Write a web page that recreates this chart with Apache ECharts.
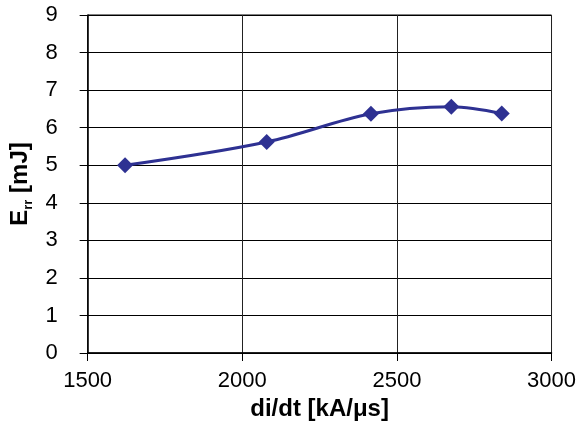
<!DOCTYPE html>
<html>
<head>
<meta charset="utf-8">
<script src="https://cdn.jsdelivr.net/npm/echarts@6/dist/echarts.min.js"></script>
<style>html,body{margin:0;padding:0;background:#fff}#c{width:579px;height:434px}</style>
</head>
<body>
<div id="c"></div>
<script>
const xValues = [1621, 2079, 2416, 2676, 2839];
const yValues = [5.0, 5.62, 6.37, 6.56, 6.38];
const xName = 'di/dt [kA/μs]';
const yName = 'E{sub|rr} [mJ]';

const chart = echarts.init(document.getElementById('c'));
chart.setOption({
  animation: false,
  backgroundColor: '#fff',
  grid: { left: 85, right: 24, top: 15, bottom: 81, show: true, borderColor: '#000', borderWidth: 1 },
  xAxis: {
    type: 'value', min: 1500, max: 3000, interval: 500,
    name: xName, nameLocation: 'middle', nameGap: 38,
    nameTextStyle: { fontFamily: 'Liberation Sans, Arial', fontSize: 24, fontWeight: 'bold', color: '#000' },
    axisLine: { show: true, lineStyle: { color: '#000', width: 1.5 } },
    axisTick: { show: true, length: 8, lineStyle: { color: '#000' } },
    axisLabel: { margin: 17, fontFamily: 'Liberation Sans, Arial', fontSize: 22, color: '#000', formatter: v => String(v) },
    splitLine: { show: true, lineStyle: { color: '#222', width: 1 } }
  },
  yAxis: {
    type: 'value', min: 0, max: 9, interval: 1,
    name: yName, nameLocation: 'middle', nameGap: 53, nameRotate: 90,
    nameTextStyle: { fontFamily: 'Liberation Sans, Arial', fontSize: 24, fontWeight: 'bold', color: '#000',
      rich: { sub: { fontFamily: 'Liberation Sans, Arial', fontSize: 13, fontWeight: 'bold', color: '#000', verticalAlign: 'bottom', padding: [16, 0, 0, 0] } } },
    axisLine: { show: true, lineStyle: { color: '#000', width: 1.5 } },
    axisTick: { show: true, length: 8, lineStyle: { color: '#000' } },
    axisLabel: { margin: 30, fontFamily: 'Liberation Sans, Arial', fontSize: 22, color: '#000' },
    splitLine: { show: true, lineStyle: { color: '#000', width: 1 } }
  },
  series: [{
    type: 'line',
    data: xValues.map((x, i) => [x, yValues[i]]),
    smooth: 0.35,
    symbol: 'diamond',
    symbolSize: 16,
    lineStyle: { color: '#2E3192', width: 3 },
    itemStyle: { color: '#2E3192' }
  }]
});
</script>
</body>
</html>
